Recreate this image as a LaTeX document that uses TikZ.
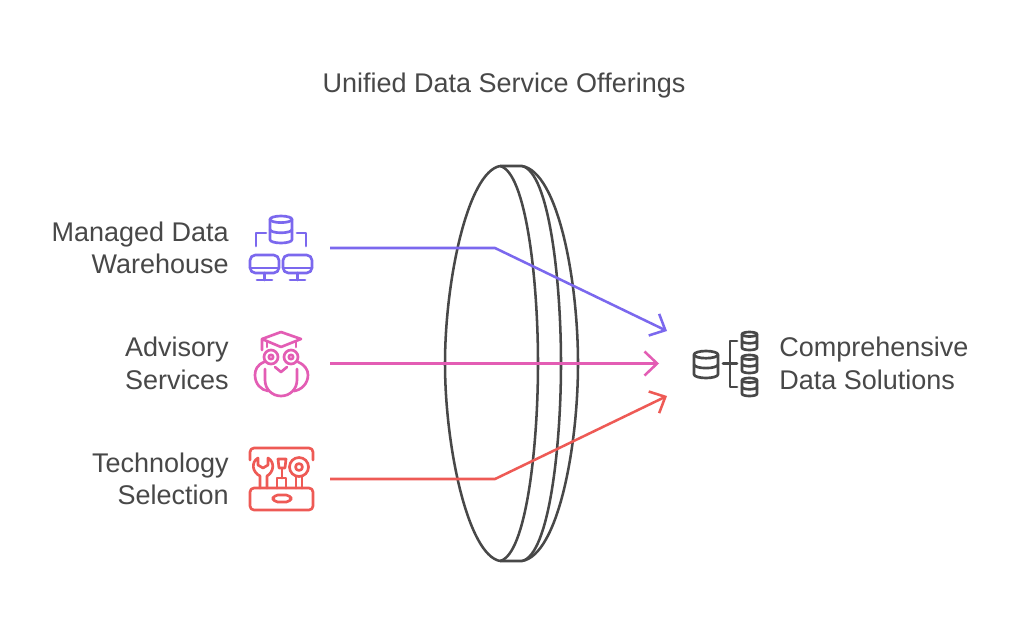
\documentclass[tikz,border=0pt]{standalone}
\usepackage{fontspec}
\setmainfont{Liberation Sans}
\usetikzlibrary{arrows.meta}
\definecolor{wareclr}{HTML}{7B68EE}
\definecolor{advclr}{HTML}{E35DB4}
\definecolor{techclr}{HTML}{EE5A55}
\definecolor{inkclr}{HTML}{484848}
% cylinder: centre x, top y, half width, height
\newcommand{\dbcyl}[4]{%
  \draw ({#1},{#2+#3*0.3}) ellipse ({#3} and {#3*0.3});
  \draw ({#1-#3},{#2+#3*0.3}) -- ({#1-#3},{#2+#4-#3*0.3}) arc[start angle=180,end angle=0,x radius=#3,y radius=#3*0.3] -- ({#1+#3},{#2+#3*0.3});
  \draw ({#1-#3},{#2+#4*0.5}) arc[start angle=180,end angle=0,x radius=#3,y radius=#3*0.3];
}
\begin{document}
\begin{tikzpicture}[x=0.75pt,y=-0.75pt,
  lbl/.style={text=inkclr,font=\fontsize{20.25}{24.4}\selectfont,inner sep=0pt},
  lblr/.style={lbl,anchor=east,align=right},
  lbll/.style={lbl,anchor=west,align=left},
  feed/.style={line width=1.9pt,line join=round,-{Straight Barb[length=9.5pt,width=18pt,line width=1.9pt]}},
  icon/.style={line width=2pt,line join=round,line cap=round},
  lens/.style={draw=inkclr,line width=1.9pt,line join=round}]
  \useasboundingbox (0,0) rectangle (1024,629);
  \fill[white] (0,0) rectangle (1024,629);
  \node[lbl] (title) at (504,86){Unified Data Service Offerings};
  \node[lblr] (warehouse) at (229,248){Managed Data\\Warehouse};
  \node[lblr] (advisory) at (229,363.5){Advisory\\Services};
  \node[lblr] (selection) at (229,479){Technology\\Selection};
  \node[lbll] (solutions) at (779,363.5){Comprehensive\\Data Solutions};
  % lens
  \draw[lens] (500,166) .. controls (468,172) and (445,280) .. (445,363.5) .. controls (445,447) and (468,555) .. (500,561);
  \draw[lens] (500,166) .. controls (526,172) and (538,280) .. (538,363.5) .. controls (538,447) and (526,555) .. (500,561);
  \draw[lens] (500,166) -- (522,166) .. controls (549,172) and (561,280) .. (561,363.5) .. controls (561,447) and (549,555) .. (522,561) -- (500,561);
  \draw[lens] (522,166) .. controls (558,172) and (578,280) .. (578,363.5) .. controls (578,447) and (558,555) .. (522,561);
  % connectors
  \coordinate (wh-out) at (330,248);
  \coordinate (wh-bend) at (495,248);
  \coordinate (wh-in) at (667,331);
  \coordinate (adv-out) at (330,363.5);
  \coordinate (adv-in) at (659,363.5);
  \coordinate (ts-out) at (330,479);
  \coordinate (ts-bend) at (495,479);
  \coordinate (ts-in) at (667,396);
  \draw[feed,wareclr] (wh-out) -- (wh-bend) -- (wh-in);
  \draw[feed,advclr] (adv-out) -- (adv-in);
  \draw[feed,techclr] (ts-out) -- (ts-bend) -- (ts-in);
  % warehouse icon
  \begin{scope}[icon,draw=wareclr]
    \dbcyl{281}{216}{11}{27}
    \draw (256,246) -- (256,233) -- (266,233);
    \draw (297,233) -- (306,233) -- (306,246);
    \draw[rounded corners=4pt] (250,255) rectangle (279,273);
    \draw[rounded corners=4pt] (283,255) rectangle (312,273);
    \draw (250,268) -- (279,268) (283,268) -- (312,268);
    \draw (264.5,273) -- (264.5,280) (257,280) -- (272,280);
    \draw (297.5,273) -- (297.5,280) (290,280) -- (305,280);
  \end{scope}
  % owl icon
  \begin{scope}[icon,draw=advclr]
    \draw (262,350) -- (262,339) -- (281,332) -- (301,339) -- (281,347) -- (262,339);
    \draw (267,342) -- (267,347);
    \draw (296,342) -- (296,347);
    \draw (271,357) circle (7) (291,357) circle (7);
    \draw (271,357) circle (2.2) (291,357) circle (2.2);
    \draw (275,367) -- (281,372) -- (287,367);
    \draw (264,362) .. controls (257,365) and (255,370) .. (255,375) .. controls (255,384) and (261,390) .. (268,391);
    \draw (298,362) .. controls (305,365) and (308,370) .. (308,375) .. controls (308,384) and (301,390) .. (294,391);
    \draw (265,369) -- (265,380) .. controls (265,389) and (272,396) .. (281,396) .. controls (290,396) and (297,389) .. (297,380) -- (297,369);
  \end{scope}
  % toolbox icon
  \begin{scope}[icon,draw=techclr]
    \draw[rounded corners=3pt] (250,460) -- (250,448) -- (313,448) -- (313,460);
    \draw[rounded corners=3pt] (250,488) rectangle (313,510);
    \draw[rounded corners=3.5pt] (273,495) rectangle (291,502);
    \draw (260,488) -- (260,476) .. controls (252,472) and (251,462) .. (258,458) -- (258,465) -- (263,468) -- (268,465) -- (268,458) .. controls (275,462) and (274,472) .. (267,476) -- (267,488);
    \draw (278,459) -- (286,459) -- (285,468) -- (279,468) -- cycle;
    \draw (282,468) -- (282,478);
    \draw (277,488) -- (277,478) -- (286,478) -- (286,488);
    \draw (299,467) circle (9.5) (299,467) circle (3.5);
    \draw (296,476) -- (296,488) (302,476) -- (302,488);
  \end{scope}
  % solutions icon
  \begin{scope}[icon,draw=inkclr]
    \dbcyl{706}{351}{12}{27}
    \draw (723,363.5) -- (737,363.5);
    \draw (737,341) -- (730,341) -- (730,387) -- (737,387);
    \dbcyl{749.5}{332}{7.5}{18}
    \dbcyl{749.5}{355}{7.5}{18}
    \dbcyl{749.5}{378}{7.5}{18}
  \end{scope}
\end{tikzpicture}
\end{document}
